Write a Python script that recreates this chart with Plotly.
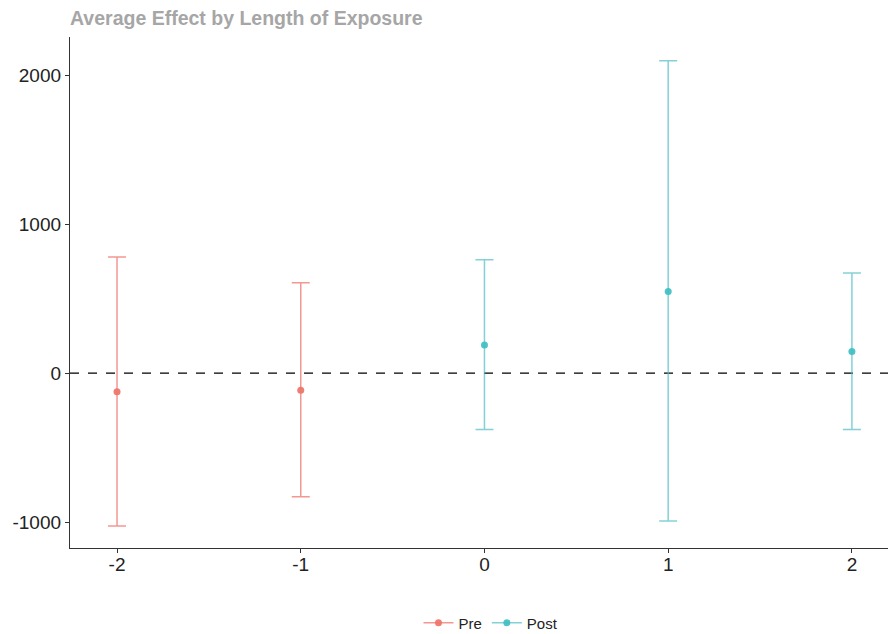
import plotly.graph_objects as go

pre_x = [-2, -1]
pre_est = [-125, -116]
pre_lo = [-1027, -830]
pre_hi = [778, 606]

post_x = [0, 1, 2]
post_est = [188, 548, 145]
post_lo = [-378, -993, -378]
post_hi = [760, 2096, 671]

x_ticks = [-2, -1, 0, 1, 2]
x_labels = ["-2", "-1", "0", "1", "2"]
y_ticks = [-1000, 0, 1000, 2000]
y_labels = ["-1000", "0", "1000", "2000"]

pre_col = "rgba(238,118,108,0.95)"
post_col = "rgba(60,190,194,0.9)"
pre_bar = "rgba(240,125,117,0.8)"
post_bar = "rgba(80,190,195,0.7)"

fig = go.Figure()

FONT = "Liberation Sans, Arial, sans-serif"


def add_series(name, xs, est, lo, hi, col, barcol):
    fig.add_trace(go.Scatter(
        x=xs, y=est, mode="markers", name=name, showlegend=False,
        marker=dict(color=col, size=7),
        error_y=dict(type="data", symmetric=False,
                     array=[h - e for h, e in zip(hi, est)],
                     arrayminus=[e - l for e, l in zip(est, lo)],
                     color=barcol, thickness=1.5, width=9),
    ))
    fig.add_trace(go.Scatter(
        x=[None], y=[None], mode="lines+markers", name=name,
        line=dict(color=barcol, width=1.5),
        marker=dict(color=col, size=7),
    ))


add_series("Pre", pre_x, pre_est, pre_lo, pre_hi, pre_col, pre_bar)
add_series("Post", post_x, post_est, post_lo, post_hi, post_col, post_bar)

fig.add_hline(y=0, line=dict(color="black", width=1.3, dash="dash"), layer="below")

axis_common = dict(
    showgrid=False, zeroline=False, showline=True, linecolor="#333333", linewidth=1.3,
    ticks="outside", ticklen=4, tickcolor="#333333",
    tickfont=dict(family=FONT, size=19, color="#222222"),
)

W, H = 888, 634
fig.update_layout(
    width=W, height=H,
    paper_bgcolor="white", plot_bgcolor="white",
    margin=dict(l=62, r=0, t=29, b=94, autoexpand=False),
    title=dict(text="<b>Average Effect by Length of Exposure</b>",
               font=dict(family=FONT, size=19.5, color="#A6A6A6"),
               x=62 / W, xanchor="left", y=1 - 10 / H, yanchor="middle"),
    xaxis=dict(range=[-2.256, 2.24], tickvals=x_ticks, ticktext=x_labels,
               ticklabelstandoff=-5, **axis_common),
    yaxis=dict(range=[-1174, 2255], tickvals=y_ticks, ticktext=y_labels, **axis_common),
    legend=dict(orientation="h", x=0.5 + 8 / 826, xanchor="center",
                yref="container", y=1 - 615 / H, yanchor="middle",
                font=dict(family=FONT, size=15, color="#222222"),
                itemwidth=30, tracegroupgap=0),
    showlegend=True,
)

fig.write_html("out.html")
